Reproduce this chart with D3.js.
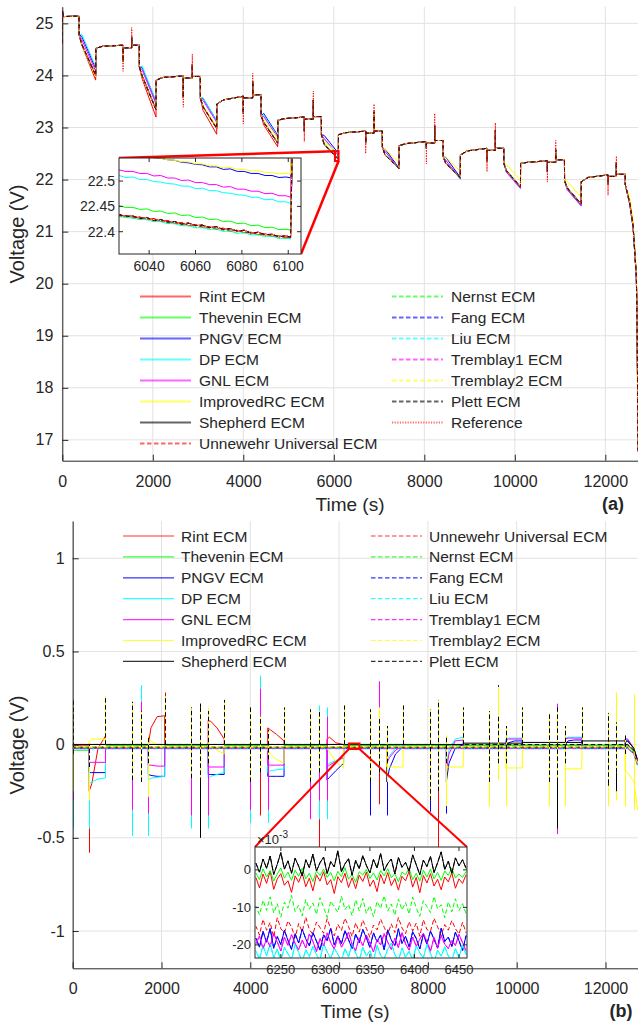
<!DOCTYPE html>
<html>
<head>
<meta charset="utf-8">
<title>ECM voltage comparison</title>
<script src="https://d3js.org/d3.v7.min.js"></script>
<style>
  html, body { margin: 0; padding: 0; background: #fff; }
  svg { display: block; }
  text { font-family: "Liberation Sans", Arial, Helvetica, sans-serif; fill: #262626; }
</style>
</head>
<body>
<svg id="fig" width="638" height="1026"></svg>
<script>
// ================= models =================
const modelNames = ["Rint ECM", "Thevenin ECM", "PNGV ECM", "DP ECM", "GNL ECM", "ImprovedRC ECM", "Shepherd ECM",
  "Unnewehr Universal ECM", "Nernst ECM", "Fang ECM", "Liu ECM", "Tremblay1 ECM", "Tremblay2 ECM", "Plett ECM"];
const modelColors = ["#ff0000", "#00ff00", "#0000ff", "#00ffff", "#ff00ff", "#ffff00", "#000000",
  "#ff0000", "#00ff00", "#0000ff", "#00ffff", "#ff00ff", "#ffff00", "#000000"];
const modelDashed = [false, false, false, false, false, false, false, true, true, true, true, true, true, true];
const modelDashOffset = [0, 0, 0, 0, 0, 0, 0, 0.8, 1.6, 2.4, 4.0, 5.2, 3.5, 0];
const refName = "Reference";

// ================= test profile timing (s) =================
const dStart = [370, 1702, 3050, 4391, 5725, 7072, 8414, 9755, 11097, 12440];   // discharge starts
const dEnd   = [738, 2071, 3412, 4760, 6101, 7441, 8796, 10125, 11467];         // discharge ends
const pDown  = [1343, 2674, 4000, 5348, 6705, 8045, 9385, 10720, 12060];        // short discharge pulse
const pUp    = [1534, 2873, 4208, 5547, 6889, 8230, 9570, 10904, 12244];        // short charge pulse
const tLast  = 12722;

// ================= (a) reference terminal voltage (V) =================
const startKnots = [[0, 24.62], [4, 25.25], [20, 25.13]];
const vRest  = [25.14, 24.58, 23.98, 23.63, 23.21, 22.93, 22.75, 22.60, 22.38, 22.10];
const vDrop  = [24.78, 24.16, 23.56, 23.22, 22.86, 22.62, 22.44, 22.31, 21.98, 21.90];
const vKnee  = [24.60, 24.00, 23.40, 23.10, 22.68, 22.47, 22.31, 22.17, 21.84];
const vEnd   = [24.00, 23.34, 22.98, 22.70, 22.389, 22.21, 22.04, 21.86, 21.53];
const vJump  = [24.52, 23.91, 23.45, 23.14, 22.86, 22.65, 22.47, 22.31, 21.96];
const vRelax = [24.56, 23.96, 23.53, 23.17, 22.90, 22.69, 22.55, 22.33, 22.04];
const vPre   = [24.58, 23.99, 23.60, 23.20, 22.93, 22.73, 22.60, 22.36, 22.09];
const vPdMin = [24.08, 23.39, 23.07, 22.73, 22.50, 22.30, 22.15, 21.95, 21.70];
const vPulse = [24.53, 23.95, 23.57, 23.16, 22.89, 22.70, 22.56, 22.33, 22.06];
const vPuMax = [24.92, 24.41, 24.04, 23.70, 23.45, 23.27, 23.09, 22.75, 22.45];
const finalDrop = [[12540, 21.55], [12614, 21.10], [12686, 20.14], [12705, 19.00], [12722, 16.80]];

// how far the model pulse spikes fall short of the measured spikes (V)
const pdGapA = [0.19, 0.18, 0.2, 0.2, 0.2, 0.3, 0.2, 0.2, 0.21];
const puGapA = [0.18, 0.2, 0.15, 0.18, 0.15, 0.24, 0.15, 0.18, 0.12];

// model offsets from the reference at the knee (+60 s) and the end of each discharge (V)
const devKneeA = {
  "Rint ECM":       [-0.02, -0.06, -0.07, -0.05, 0, 0, 0, 0, 0, 0],
  "Thevenin ECM":   [0.01, 0.01, 0.01, 0.01, 0.014, 0.01, 0.01, 0.01, 0.01, 0.01],
  "PNGV ECM":       [0.15, 0.16, 0.16, 0.17, 0.17, 0.12, 0.12, -0.01, -0.02, -0.02],
  "DP ECM":         [0.19, 0.18, 0.17, 0.14, 0.10, 0.07, 0.06, -0.03, -0.035, -0.03],
  "GNL ECM":        [0.09, 0.11, 0.12, 0.11, 0.11, 0.07, 0.06, -0.03, -0.035, -0.03],
  "ImprovedRC ECM": [-0.02, -0.02, 0.01, 0.05, 0.04, 0.12, 0.12, 0.12, 0.13, 0.10]
};
const devEndA = {
  "Rint ECM":       [-0.09, -0.14, -0.11, -0.07, -0.005, 0, 0, 0, 0, 0],
  "Thevenin ECM":   [0.015, 0.015, 0.015, 0.015, 0.014, 0.01, 0.01, 0.01, 0.01, 0.01],
  "PNGV ECM":       [0.13, 0.15, 0.15, 0.15, 0.117, 0.01, 0, -0.02, -0.025, -0.02],
  "DP ECM":         [0.17, 0.17, 0.15, 0.13, 0.067, 0, -0.04, -0.035, -0.04, -0.03],
  "GNL ECM":        [0.08, 0.11, 0.12, 0.11, 0.079, 0, -0.025, -0.03, -0.035, -0.03],
  "ImprovedRC ECM": [-0.028, 0, 0.05, 0.10, 0.125, 0.12, 0.12, 0.125, 0.13, 0.15]
};
const noDev = [0, 0, 0, 0, 0, 0, 0, 0, 0, 0];

// ================= (a) zoomed window 6027–6105.5 s =================
const zoomA = { t: [6027, 6105.5], v: [22.356, 22.5455] };
const insetAT = [6027, 6030, 6033, 6036, 6039, 6042, 6045, 6048, 6051, 6054, 6057, 6060, 6063,
  6066, 6069, 6072, 6075, 6078, 6081, 6084, 6087, 6090, 6093, 6096, 6099, 6101];
const insetPNGV = [22.558, 22.555, 22.554, 22.551, 22.550, 22.546, 22.545, 22.542, 22.541, 22.537, 22.536, 22.533, 22.532,
  22.528, 22.528, 22.523, 22.524, 22.519, 22.519, 22.515, 22.515, 22.511, 22.511, 22.507, 22.508, 22.5065];
const insetImprovedRC = [22.556, 22.554, 22.553, 22.550, 22.549, 22.546, 22.545, 22.542, 22.541, 22.538, 22.538, 22.534, 22.534,
  22.530, 22.530, 22.526, 22.527, 22.523, 22.523, 22.520, 22.520, 22.517, 22.517, 22.514, 22.515, 22.514];
const insetGNL = [22.522, 22.519, 22.519, 22.515, 22.515, 22.510, 22.511, 22.506, 22.506, 22.501, 22.502, 22.497, 22.497,
  22.493, 22.493, 22.488, 22.489, 22.484, 22.484, 22.480, 22.480, 22.475, 22.476, 22.471, 22.471, 22.468];
const insetDP = [22.511, 22.507, 22.508, 22.503, 22.503, 22.499, 22.498, 22.495, 22.494, 22.490, 22.490, 22.485, 22.486,
  22.481, 22.481, 22.477, 22.476, 22.473, 22.472, 22.468, 22.468, 22.463, 22.464, 22.459, 22.459, 22.456];
const insetThevenin = [22.451, 22.448, 22.448, 22.444, 22.445, 22.440, 22.441, 22.436, 22.437, 22.432, 22.433, 22.428, 22.429,
  22.424, 22.425, 22.420, 22.421, 22.416, 22.417, 22.412, 22.413, 22.408, 22.409, 22.404, 22.405, 22.403];
const insetClusterA = [22.434, 22.430, 22.431, 22.426, 22.428, 22.422, 22.424, 22.419, 22.420, 22.415, 22.417, 22.412, 22.413,
  22.408, 22.410, 22.404, 22.406, 22.401, 22.403, 22.397, 22.399, 22.394, 22.395, 22.390, 22.392, 22.389];
const insetClusterB = [22.431, 22.432, 22.428, 22.429, 22.424, 22.426, 22.420, 22.422, 22.416, 22.418, 22.412, 22.414, 22.409,
  22.410, 22.405, 22.407, 22.401, 22.403, 22.398, 22.399, 22.394, 22.396, 22.391, 22.392, 22.388, 22.388];
const insetClusterC = [22.430, 22.428, 22.427, 22.424, 22.424, 22.420, 22.420, 22.416, 22.416, 22.412, 22.412, 22.408, 22.408,
  22.405, 22.405, 22.401, 22.401, 22.397, 22.398, 22.394, 22.394, 22.391, 22.391, 22.387, 22.387, 22.386];
const insetAByModel = {
  "Rint ECM": insetClusterB, "Thevenin ECM": insetThevenin, "PNGV ECM": insetPNGV, "DP ECM": insetDP,
  "GNL ECM": insetGNL, "ImprovedRC ECM": insetImprovedRC, "Shepherd ECM": insetClusterA,
  "Unnewehr Universal ECM": insetClusterB, "Nernst ECM": insetClusterC, "Fang ECM": insetClusterA,
  "Liu ECM": insetClusterC, "Tremblay1 ECM": insetClusterA, "Tremblay2 ECM": insetClusterA,
  "Plett ECM": insetClusterA, "Reference": insetClusterA
};

// ================= (b) voltage error (V) =================
// error level during each rest interval (before discharge 1..10)
const restErrB = {
  "Rint ECM": [-0.003, -0.003, -0.003, -0.003, -0.003, -0.003, -0.003, -0.003, -0.003, -0.003],
  "Thevenin ECM": [-0.03, -0.004, -0.004, -0.004, -0.004, -0.004, -0.004, -0.004, -0.004, -0.004],
  "PNGV ECM": [-0.0185, -0.0185, -0.0185, -0.0185, -0.0185, -0.0185, -0.0185, -0.0185, -0.0185, -0.0185],
  "DP ECM": [-0.022, -0.022, -0.022, -0.022, -0.022, -0.022, -0.022, -0.022, -0.022, -0.022],
  "GNL ECM": [-0.0195, -0.0195, -0.0195, -0.0195, -0.0195, -0.0195, -0.0195, -0.0195, -0.0195, -0.0195],
  "ImprovedRC ECM": [-0.012, -0.012, -0.012, -0.012, -0.012, -0.012, -0.012, -0.012, -0.012, -0.012],
  "Shepherd ECM": [0.001, 0.001, 0.001, 0.001, 0.001, 0.001, 0.001, 0.008, 0.012, 0.02],
  "Unnewehr Universal ECM": [-0.0155, -0.0155, -0.0155, -0.0155, -0.0155, -0.0155, -0.0155, -0.0155, -0.0155, -0.0155],
  "Nernst ECM": [-0.010, -0.010, -0.010, -0.010, -0.010, -0.010, -0.010, -0.010, -0.010, -0.010],
  "Fang ECM": [-0.0185, -0.0185, -0.0185, -0.0185, -0.0185, -0.0185, -0.0185, -0.0185, -0.0185, -0.0185],
  "Liu ECM": [-0.022, -0.022, -0.022, -0.022, -0.022, -0.022, -0.022, -0.022, -0.022, -0.022],
  "Tremblay1 ECM": [-0.0195, -0.0195, -0.0195, -0.0195, -0.0195, -0.0195, -0.0195, -0.0195, -0.0195, -0.0195],
  "Tremblay2 ECM": [-0.012, -0.012, -0.012, -0.012, -0.012, -0.012, -0.012, -0.012, -0.012, -0.012],
  "Plett ECM": [0.001, 0.001, 0.001, 0.001, 0.001, 0.001, 0.001, 0.001, 0.001, 0.001]
};
// error during each discharge at +2 s, +60 s, +200 s and the end (null: stays at rest level)
const segErrB = {
  "Rint ECM": [[-0.25, -0.21, -0.02, 0.046], [0.0, 0.09, 0.15, 0.155], [0.13, 0.125, 0.09, 0.03], [0.09, 0.08, 0.055, 0.02],
    [0.03, 0.04, 0.01, 0.0], null, null, null, null, [-0.003, -0.003, -0.03, -0.09]],
  "Thevenin ECM": [[-0.02, -0.02, -0.02, -0.02], [-0.02, -0.02, -0.02, -0.02], [-0.02, -0.02, -0.02, -0.02], [-0.02, -0.02, -0.02, -0.02],
    [-0.016, -0.016, -0.016, -0.016], null, null, null, null, [-0.004, -0.004, -0.035, -0.095]],
  "PNGV ECM": [[-0.15, -0.15, -0.15, -0.15], [-0.16, -0.165, -0.17, -0.17], [-0.16, -0.16, -0.16, -0.16], [-0.17, -0.17, -0.17, -0.17],
    [-0.19, -0.175, -0.14, -0.10], [-0.2, -0.13, -0.05, -0.01], [-0.2, -0.1, -0.02, 0.0], [-0.01, 0.01, 0.02, 0.02],
    [0.0, 0.02, 0.025, 0.025], [0.01, 0.02, -0.02, -0.1]],
  "DP ECM": [[-0.21, -0.2, -0.185, -0.178], [-0.19, -0.18, -0.175, -0.17], [-0.18, -0.17, -0.16, -0.15], [-0.15, -0.14, -0.135, -0.13],
    [-0.11, -0.1, -0.085, -0.07], [-0.08, -0.06, -0.02, 0.0], [-0.12, -0.03, 0.03, 0.04], [0.03, 0.035, 0.035, 0.035],
    [0.035, 0.04, 0.04, 0.04], [0.03, 0.03, -0.02, -0.1]],
  "GNL ECM": [[-0.095, -0.095, -0.095, -0.095], [-0.11, -0.11, -0.115, -0.115], [-0.12, -0.12, -0.12, -0.12], [-0.11, -0.11, -0.11, -0.11],
    [-0.12, -0.11, -0.09, -0.07], [-0.1, -0.07, -0.03, -0.005], [-0.14, -0.05, 0.02, 0.025], [0.02, 0.03, 0.03, 0.03],
    [0.03, 0.035, 0.035, 0.035], [0.03, 0.03, -0.02, -0.1]],
  "ImprovedRC ECM": [[0.02, 0.03, 0.03, 0.028], [0.03, 0.02, 0.0, -0.01], [0.0, -0.01, -0.03, -0.05], [-0.03, -0.05, -0.08, -0.1],
    [-0.02, -0.04, -0.09, -0.125], [-0.12, -0.12, -0.12, -0.12], [-0.12, -0.12, -0.12, -0.12], [-0.125, -0.125, -0.125, -0.125],
    [-0.13, -0.13, -0.13, -0.13], [-0.14, -0.15, -0.2, -0.35]],
  "Shepherd ECM": [null, null, null, null, null, null, null, null, null, [0.02, 0.02, -0.02, -0.08]],
  "Unnewehr Universal ECM": [null, null, null, null, null, null, null, null, null, [-0.0155, -0.0155, -0.045, -0.105]],
  "Nernst ECM": [null, null, null, null, null, null, null, null, null, [-0.010, -0.010, -0.04, -0.1]],
  "Fang ECM": [null, null, null, null, null, null, null, null, null, [-0.0185, -0.0185, -0.05, -0.11]],
  "Liu ECM": [null, null, null, null, null, null, null, null, null, [-0.022, -0.022, -0.05, -0.11]],
  "Tremblay1 ECM": [null, null, null, null, null, null, null, null, null, [-0.0195, -0.0195, -0.05, -0.11]],
  "Tremblay2 ECM": [null, null, null, null, null, null, null, null, null, [-0.012, -0.012, -0.045, -0.1]],
  "Plett ECM": [null, null, null, null, null, null, null, null, null, [0.001, 0.001, -0.03, -0.085]]
};
// one-sample error spikes at current steps: [t, low, high]
const spikesDashedPair = [[0, -0.05, 0.25], [370, -0.12, 0], [738, 0, 0.26], [1343, -0.19, 0.23], [1534, -0.2, 0.18], [1702, -0.1, 0.05],
  [2071, 0, 0.26], [2674, -0.18, 0.2], [2873, -0.2, 0.2], [3050, -0.1, 0.18], [3412, 0, 0.24], [4000, -0.2, 0.2], [4208, -0.15, 0.15],
  [4391, -0.08, 0.08], [4760, 0, 0.2], [5348, -0.2, 0.19], [5547, -0.15, 0.18], [6101, 0, 0.21], [6705, -0.2, 0.19], [6889, -0.15, 0.15],
  [7072, -0.1, 0.1], [7441, 0, 0.21], [8045, -0.3, 0.19], [8230, -0.25, 0.24], [8414, -0.1, 0.05], [8796, 0, 0.2], [9385, -0.2, 0.18],
  [9570, -0.1, 0.15], [9755, -0.1, 0.1], [10125, 0, 0.2], [10720, -0.2, 0.17], [10904, -0.2, 0.18], [11097, -0.1, 0.1], [11467, 0, 0.2],
  [12060, -0.21, 0.17], [12244, -0.15, 0.12], [12440, -0.05, 0.05]];
const spikesB = {
  "Rint ECM": [[370, -0.58, 0], [2071, 0, 0.28], [4208, -0.38, 0.28], [5547, -0.56, 0], [6889, -0.32, 0], [8230, -0.6, 0]],
  "PNGV ECM": [[5725, -0.38, 0], [6705, -0.38, 0], [6889, 0, 0.30], [7072, -0.38, 0], [8045, -0.36, 0], [8414, -0.37, 0], [9570, 0, 0.32]],
  "DP ECM": [[0, -0.45, 0.05], [370, -0.45, 0], [1343, -0.49, 0], [1534, -0.1, 0.32], [1702, -0.49, 0], [2674, -0.45, 0],
    [2873, 0, 0.22], [3050, -0.45, 0], [4000, -0.42, 0], [4208, 0, 0.37], [4391, -0.42, 0.05], [5348, -0.38, 0],
    [5547, -0.4, 0.21], [5725, -0.4, 0.2]],
  "GNL ECM": [[0, -0.3, 0.12], [370, -0.25, 0], [738, 0, 0.1], [1343, -0.35, 0.1], [1534, -0.05, 0.23], [1702, -0.37, 0],
    [2674, -0.38, 0], [2873, -0.3, 0.15], [3050, -0.38, 0], [4000, -0.35, 0], [4208, 0, 0.3], [4391, -0.35, 0.08], [5348, -0.4, 0],
    [5547, -0.3, 0.15], [5725, -0.3, 0.15], [6889, 0, 0.34], [10904, -0.48, 0.22]],
  "ImprovedRC ECM": [[0, -0.25, 0.2], [370, -0.3, 0], [1702, -0.28, 0], [3050, 0, 0.2], [6889, 0, 0.2], [7072, -0.2, 0],
    [8414, -0.33, 0], [9385, -0.33, 0], [9570, -0.19, 0.31], [9755, -0.33, 0], [10720, -0.33, 0], [11097, -0.33, 0],
    [12060, -0.33, 0], [12244, -0.3, 0.28], [12440, -0.33, 0.05], [12650, -0.35, 0.27]],
  "Shepherd ECM": [[1343, -0.19, 0.2], [1534, -0.2, 0.15], [2873, -0.5, 0.22], [6705, -0.2, 0.1], [8230, -0.25, 0.2],
    [10904, -0.45, 0.2], [12060, -0.22, 0.12], [12244, -0.25, 0.1]],
  "Tremblay2 ECM": spikesDashedPair,
  "Plett ECM": spikesDashedPair
};

// ================= (b) zoomed window 6221–6459 s (values in 1e-3 V, 4 s sampling) =================
const zoomB = { t: [6221, 6459], v: [-0.0235, 0.0061] };
const insetBStart = 6222, insetBStep = 4;
const insetBShepherd = [1.8, -0.6, 2.9, 0.4, 3.7, -1.2, 1.5, 4.6, 0.2, 2.4, -0.9, 3.1, 1.0, -1.6, 2.7, 0.6, 4.2, -0.3, 1.9, 3.4,
  -1.0, 2.2, 0.8, 5.1, -0.5, 1.6, 3.0, -1.4, 2.5, 0.3, 3.8, 1.2, -0.8, 2.8, 0.5, 4.4, -0.2, 1.7, 2.9, -1.1,
  3.3, 0.7, 2.0, -0.4, 4.0, 1.4, -1.3, 2.6, 0.9, 3.6, -0.7, 1.9, 4.8, 0.1, 2.3, -0.9, 3.2, 1.1, 2.7, 0.4];
const insetBRint = [-2.0, -4.8, -1.1, -3.6, -0.3, -5.2, -2.4, -1.0, -4.1, -2.9, -6.0, -1.6, -3.3, -0.8, -4.5, -2.2, -5.6, -1.3, -3.0, -0.5,
  -4.0, -2.6, -6.3, -1.8, -3.4, -0.9, -4.7, -2.1, -5.0, -1.4, -3.1, -0.6, -4.4, -2.7, -5.8, -1.2, -3.7, -0.7, -4.2, -2.3,
  -5.4, -1.7, -2.9, -0.4, -4.6, -2.0, -6.1, -1.5, -3.5, -1.0, -4.3, -2.5, -5.3, -1.9, -3.2, -0.8, -4.9, -2.4, -3.6, -1.3];
const insetBThevenin = [-0.8, -2.6, 0.3, -1.9, -0.2, -3.0, -1.1, 0.5, -2.2, -0.6, -2.8, -0.1, -1.7, 0.4, -2.4, -0.9, -3.1, -0.3, -1.5, 0.2,
  -2.0, -0.7, -2.9, -0.4, -1.8, 0.6, -2.5, -1.2, -3.3, -0.5, -1.4, 0.1, -2.3, -0.8, -2.7, -0.2, -1.6, 0.3, -2.1, -1.0,
  -3.2, -0.6, -1.3, 0.4, -2.6, -0.9, -3.0, -0.1, -1.9, 0.2, -2.4, -0.7, -2.8, -0.3, -1.5, 0.5, -2.2, -1.1, -2.0, -0.4];
const insetBNernst = [-9.6, -12.0, -8.1, -10.8, -7.2, -11.5, -9.0, -12.6, -8.6, -10.2, -6.8, -11.1, -9.4, -12.3, -7.9, -10.5, -8.8, -11.9, -7.4, -10.0,
  -12.7, -8.3, -9.9, -11.3, -7.0, -10.6, -9.2, -12.2, -8.0, -10.9, -7.6, -11.6, -9.5, -12.5, -8.4, -10.3, -6.9, -11.0, -9.1, -12.1,
  -7.8, -10.7, -8.7, -11.8, -7.3, -10.1, -12.4, -8.2, -9.8, -11.4, -7.1, -10.4, -9.3, -12.8, -8.5, -11.2, -7.7, -10.9, -9.0, -11.7];
const insetBUnnewehr = [-15.0, -17.4, -13.2, -16.1, -14.0, -17.9, -12.8, -15.7, -16.8, -13.6, -15.2, -18.1, -14.3, -16.5, -12.6, -15.9, -17.2, -13.9, -15.4, -16.9,
  -13.0, -15.8, -17.6, -14.5, -16.2, -12.9, -15.1, -17.8, -14.1, -16.6, -13.4, -15.6, -18.0, -14.7, -16.0, -13.1, -15.3, -17.3, -14.4, -16.7,
  -12.7, -15.5, -17.0, -13.8, -16.3, -14.2, -17.7, -13.3, -15.9, -16.4, -12.9, -15.2, -17.5, -14.6, -16.1, -13.5, -15.7, -17.1, -14.0, -16.8];
const insetBPNGV = [-18.2, -20.6, -16.4, -19.3, -15.6, -20.9, -17.8, -19.9, -16.1, -18.8, -21.2, -17.0, -19.5, -15.8, -18.4, -20.3, -16.7, -19.0, -21.4, -17.3,
  -18.9, -15.5, -20.0, -17.6, -19.7, -16.2, -18.6, -21.0, -17.1, -19.4, -15.9, -18.1, -20.7, -16.8, -19.2, -17.4, -21.3, -16.0, -18.7, -20.2,
  -15.7, -19.6, -17.7, -20.5, -16.5, -18.3, -21.1, -17.2, -19.8, -16.3, -18.5, -20.8, -15.6, -19.1, -17.9, -20.4, -16.6, -18.9, -21.5, -17.5];
const insetBGNL = [-19.8, -17.6, -21.0, -18.4, -20.5, -16.9, -19.2, -21.6, -18.0, -20.1, -17.3, -19.6, -21.3, -18.7, -20.8, -17.1, -19.0, -21.8, -18.3, -20.3,
  -16.8, -19.4, -21.1, -17.8, -20.6, -18.9, -16.6, -19.9, -21.5, -18.1, -20.2, -17.4, -19.5, -21.9, -18.6, -20.0, -17.0, -19.3, -21.2, -18.2,
  -20.7, -16.7, -19.7, -21.4, -17.9, -20.4, -18.5, -16.9, -19.1, -21.7, -18.0, -20.9, -17.5, -19.8, -21.0, -18.8, -20.2, -17.2, -19.4, -21.6];
const insetBDP = [-21.6, -23.8, -20.2, -22.9, -19.6, -23.4, -21.1, -24.2, -20.7, -22.4, -23.9, -19.9, -22.0, -24.5, -21.3, -23.1, -20.4, -22.7, -24.0, -19.7,
  -21.8, -23.6, -20.9, -22.5, -24.3, -21.0, -23.2, -19.8, -22.2, -24.1, -20.6, -23.0, -21.5, -24.4, -20.1, -22.8, -23.7, -21.2, -19.5, -22.6,
  -24.2, -20.8, -23.3, -21.7, -24.0, -20.3, -22.1, -23.5, -19.9, -22.3, -24.6, -21.4, -23.0, -20.5, -22.9, -24.1, -21.0, -23.4, -20.0, -22.6];
const insetBByModel = {
  "Rint ECM": insetBRint, "Thevenin ECM": insetBThevenin, "PNGV ECM": insetBPNGV, "DP ECM": insetBDP, "GNL ECM": insetBGNL,
  "Shepherd ECM": insetBShepherd, "Unnewehr Universal ECM": insetBUnnewehr, "Nernst ECM": insetBNernst, "Fang ECM": insetBPNGV,
  "Liu ECM": insetBDP, "Tremblay1 ECM": insetBGNL, "Plett ECM": insetBShepherd
};

// ================= ticks =================
const ticksTime = [0, 2000, 4000, 6000, 8000, 10000, 12000];
const ticksVoltA = [17, 18, 19, 20, 21, 22, 23, 24, 25];
const ticksErrB = [-1, -0.5, 0, 0.5, 1];
const ticksInsetAX = [6040, 6060, 6080, 6100];
const ticksInsetAY = [22.4, 22.45, 22.5];
const ticksInsetBX = [6250, 6300, 6350, 6400, 6450];
const ticksInsetBY = [-20, -10, 0];

// ================= drawing =================
const AXC = "#262626", GRIDC = "#e2e2e2";
const DASH = "4.5,2.5", DOT = "1.2,1.4";
const svg = d3.select("#fig");

const xA = d3.scaleLinear().domain([0, tLast]).range([62.3, 638]);
const yA = d3.scaleLinear().domain([16.6, 25.32]).range([460.7, 6.7]);
const xB = d3.scaleLinear().domain([0, tLast]).range([72.7, 72.7 + tLast * 0.0444]);
const yB = d3.scaleLinear().domain([-1.2, 1.2]).range([968.3, 521]);
const xIA = d3.scaleLinear().domain(zoomA.t).range([119, 301]);
const yIA = d3.scaleLinear().domain(zoomA.v).range([254, 158]);
const xIB = d3.scaleLinear().domain(zoomB.t).range([255, 467]);
const yIB = d3.scaleLinear().domain([zoomB.v[0] * 1000, zoomB.v[1] * 1000]).range([958, 847]);

const defs = svg.append("defs");
function clip(id, x0, y0, x1, y1) {
  defs.append("clipPath").attr("id", id).append("rect")
    .attr("x", x0).attr("y", y0).attr("width", x1 - x0).attr("height", y1 - y0);
  return "url(#" + id + ")";
}

function styleLine(sel, idx, opts = {}) {
  const isRef = idx < 0;
  sel.attr("fill", "none")
    .attr("stroke", isRef ? "#ff0000" : modelColors[idx])
    .attr("stroke-width", opts.width || 1)
    .attr("stroke-dasharray", isRef ? DOT : (modelDashed[idx] ? DASH : null))
    .attr("stroke-dashoffset", isRef ? 0 : modelDashOffset[idx])
    .attr("stroke-linejoin", "round");
  return sel;
}

function grid(g, x, y, xt, yt) {
  const [x0, x1] = x.range(), [yb, yt0] = y.range();
  g.append("g").selectAll("line").data(xt).join("line")
    .attr("x1", d => x(d)).attr("x2", d => x(d)).attr("y1", yt0).attr("y2", yb)
    .attr("stroke", GRIDC).attr("stroke-width", 1);
  g.append("g").selectAll("line").data(yt).join("line")
    .attr("x1", x0).attr("x2", x1).attr("y1", d => y(d)).attr("y2", d => y(d))
    .attr("stroke", GRIDC).attr("stroke-width", 1);
}

function drawAxisFrame(g, x, y, xt, yt, fmtY, padY, padX, fontSize) {
  const [x0] = x.range(), [yb] = y.range();
  const ax = g.append("g").attr("transform", `translate(0,${yb})`)
    .call(d3.axisBottom(x).tickValues(xt).tickSizeInner(-6).tickSizeOuter(0).tickPadding(padX).tickFormat(d => String(d)));
  const ay = g.append("g").attr("transform", `translate(${x0},0)`)
    .call(d3.axisLeft(y).tickValues(yt).tickSizeInner(-6).tickSizeOuter(0).tickPadding(padY).tickFormat(fmtY));
  [ax, ay].forEach(a => {
    a.select(".domain").attr("stroke", AXC).attr("stroke-width", 1);
    a.selectAll(".tick line").attr("stroke", AXC);
    a.selectAll("text").attr("font-size", fontSize).attr("fill", AXC);
    a.attr("font-family", null).attr("font-size", null);
  });
}

function insetFrame(g, x, y, xt, yt, fmtY, fontSize, tickLen) {
  const [x0, x1] = x.range(), [y1, y0] = y.range();
  g.append("rect").attr("x", x0).attr("y", y0).attr("width", x1 - x0).attr("height", y1 - y0)
    .attr("fill", "#fff").attr("stroke", "none");
  return function finish() {
    const f = g.append("g");
    f.append("rect").attr("x", x0).attr("y", y0).attr("width", x1 - x0).attr("height", y1 - y0)
      .attr("fill", "none").attr("stroke", AXC).attr("stroke-width", 1);
    xt.forEach(d => {
      f.append("line").attr("x1", x(d)).attr("x2", x(d)).attr("y1", y1).attr("y2", y1 - tickLen).attr("stroke", AXC);
      f.append("line").attr("x1", x(d)).attr("x2", x(d)).attr("y1", y0).attr("y2", y0 + tickLen).attr("stroke", AXC);
      f.append("text").attr("x", x(d)).attr("y", y1 + 4).attr("dy", "0.95em").attr("text-anchor", "middle")
        .attr("font-size", fontSize).text(String(d));
    });
    yt.forEach(d => {
      f.append("line").attr("x1", x0).attr("x2", x0 + tickLen).attr("y1", y(d)).attr("y2", y(d)).attr("stroke", AXC);
      f.append("line").attr("x1", x1).attr("x2", x1 - tickLen).attr("y1", y(d)).attr("y2", y(d)).attr("stroke", AXC);
      f.append("text").attr("x", x0 - 4).attr("y", y(d)).attr("dy", "0.35em").attr("text-anchor", "end")
        .attr("font-size", fontSize).text(fmtY(d));
    });
    return f;
  };
}

// ---------- (a) series construction from the profile knots ----------
function buildA(name) {
  const isRef = name === refName;
  const dk = devKneeA[name] || noDev, de = devEndA[name] || noDev;
  const pts = startKnots.map(p => p.slice());
  for (let k = 0; k < dStart.length; k++) {
    pts.push([dStart[k], vRest[k]], [dStart[k] + 2, vDrop[k]]);
    if (k < dEnd.length) {
      pts.push([dStart[k] + 60, vKnee[k] + dk[k]], [dEnd[k], vEnd[k] + de[k]],
        [dEnd[k] + 2, vJump[k]], [dEnd[k] + 150, vRelax[k]],
        [pDown[k] - 1, vPre[k]], [pDown[k], vPdMin[k] + (isRef ? 0 : pdGapA[k])], [pDown[k] + 2, vPulse[k]],
        [pUp[k] - 1, vPulse[k]], [pUp[k], vPuMax[k] - (isRef ? 0 : puGapA[k])], [pUp[k] + 2, vRest[k + 1]]);
    } else {
      finalDrop.forEach((p, i) => pts.push([p[0], p[1] + (i === finalDrop.length - 1 ? de[k] : dk[k])]));
    }
  }
  return pts;
}

// ---------- (b) series construction ----------
function buildB(name) {
  const rest = restErrB[name], seg = segErrB[name];
  const pts = [[0, rest[0]]];
  for (let k = 0; k < dStart.length; k++) {
    const s = seg[k];
    const tEndK = k < dEnd.length ? dEnd[k] : tLast;
    if (s) {
      pts.push([dStart[k], rest[k]], [dStart[k] + 2, s[0]], [dStart[k] + 60, s[1]], [dStart[k] + 200, s[2]], [tEndK, s[3]]);
    } else {
      pts.push([dStart[k], rest[k]], [tEndK, rest[k]]);
    }
    if (k < dEnd.length) pts.push([dEnd[k] + 2, rest[k + 1]]);
  }
  return pts;
}

// ================= panel (a) =================
const gA = svg.append("g");
grid(gA, xA, yA, ticksTime, ticksVoltA);
const clipA = clip("clipA", 62.3, 6.7, 638, 460.7);
const lineA = d3.line().x(d => xA(d[0])).y(d => yA(d[1]));
const seriesA = gA.append("g").attr("clip-path", clipA);
modelNames.forEach((name, i) => styleLine(seriesA.append("path").attr("d", lineA(buildA(name))), i));
styleLine(seriesA.append("path").attr("d", lineA(buildA(refName))), -1);

drawAxisFrame(gA, xA, yA, ticksTime, ticksVoltA, d => String(d), 9, 15.4, 16);

// zoom marker and connectors
gA.append("rect").attr("x", xA(zoomA.t[0])).attr("y", yA(zoomA.v[1]))
  .attr("width", xA(zoomA.t[1]) - xA(zoomA.t[0])).attr("height", yA(zoomA.v[0]) - yA(zoomA.v[1]))
  .attr("fill", "none").attr("stroke", "#ff0000").attr("stroke-width", 2);
gA.append("line").attr("x1", xIA.range()[0]).attr("y1", yIA.range()[1]).attr("x2", xA(zoomA.t[0])).attr("y2", yA(zoomA.v[1]))
  .attr("stroke", "#ff0000").attr("stroke-width", 2.5);
gA.append("line").attr("x1", xIA.range()[1]).attr("y1", yIA.range()[0]).attr("x2", xA(zoomA.t[1])).attr("y2", yA(zoomA.v[0]))
  .attr("stroke", "#ff0000").attr("stroke-width", 2.5);

// inset (a)
const gIA = svg.append("g");
const finishIA = insetFrame(gIA, xIA, yIA, ticksInsetAX, ticksInsetAY, d => String(d), 14, 4);
const clipIA = clip("clipIA", 119, 158, 301, 254);
const lineIA = d3.line().x(d => xIA(d[0])).y(d => yIA(d[1]));
const insIA = gIA.append("g").attr("clip-path", clipIA);
modelNames.concat([refName]).forEach((name, j) => {
  const vals = insetAByModel[name];
  const pts = insetAT.map((t, i) => [t, vals[i]]);
  pts.push([dEnd[4] + 2, vJump[4]]);
  styleLine(insIA.append("path").attr("d", lineIA(pts)), j < modelNames.length ? j : -1);
});
finishIA();

// labels (a)
svg.append("text").attr("transform", "translate(24,234) rotate(-90)").attr("text-anchor", "middle")
  .attr("font-size", 20).text("Voltage (V)");
svg.append("text").attr("x", 350).attr("y", 511).attr("text-anchor", "middle").attr("font-size", 19).text("Time (s)");
svg.append("text").attr("x", 613).attr("y", 510).attr("text-anchor", "middle").attr("font-size", 18)
  .attr("font-weight", "bold").text("(a)");

// legend (a)
const legA = modelNames.concat([refName]);
legA.forEach((name, i) => {
  const col = i < 8 ? 0 : 1, row = i < 8 ? i : i - 8;
  const lx = col === 0 ? 140 : 392, tx = col === 0 ? 199 : 451;
  const ly = 296.5 + row * 21;
  styleLine(svg.append("line").attr("x1", lx).attr("x2", lx + 51).attr("y1", ly).attr("y2", ly),
    i < modelNames.length ? i : -1, { width: 1.8 }).attr("stroke-opacity", 0.6).attr("stroke-dashoffset", 0);
  svg.append("text").attr("x", tx).attr("y", ly).attr("dy", "0.36em").attr("font-size", 15.5).text(name);
});

// ================= panel (b) =================
const gB = svg.append("g");
grid(gB, xB, yB, ticksTime, ticksErrB);
const clipB = clip("clipB", 72.7, 521, 638, 968.3);
const lineB = d3.line().x(d => xB(d[0])).y(d => yB(d[1]));
const seriesB = gB.append("g").attr("clip-path", clipB);
modelNames.forEach((name, i) => {
  styleLine(seriesB.append("path").attr("d", lineB(buildB(name))), i);
  (spikesB[name] || []).forEach(s => {
    const px = Math.round(xB(s[0])) + 0.5;
    styleLine(seriesB.append("line").attr("x1", px).attr("x2", px).attr("y1", yB(s[1])).attr("y2", yB(s[2])), i)
      .attr("stroke-dashoffset", name === "Tremblay2 ECM" ? 3.5 : 0);
  });
});

drawAxisFrame(gB, xB, yB, ticksTime, ticksErrB, d => String(d), 8, 14.1, 16);

// zoom marker and connectors (b)
gB.append("rect").attr("x", xB(zoomB.t[0])).attr("y", yB(zoomB.v[1]))
  .attr("width", xB(zoomB.t[1]) - xB(zoomB.t[0])).attr("height", yB(zoomB.v[0]) - yB(zoomB.v[1]))
  .attr("fill", "none").attr("stroke", "#ff0000").attr("stroke-width", 2);
gB.append("line").attr("x1", xIB.range()[0]).attr("y1", yIB.range()[1]).attr("x2", xB(zoomB.t[0])).attr("y2", yB(zoomB.v[0]))
  .attr("stroke", "#ff0000").attr("stroke-width", 2);
gB.append("line").attr("x1", xIB.range()[1]).attr("y1", yIB.range()[1]).attr("x2", xB(zoomB.t[1])).attr("y2", yB(zoomB.v[0]))
  .attr("stroke", "#ff0000").attr("stroke-width", 2);

// inset (b)
const gIB = svg.append("g");
const finishIB = insetFrame(gIB, xIB, yIB, ticksInsetBX, ticksInsetBY, d => String(d), 13, 4);
const clipIB = clip("clipIB", 255, 847, 467, 958);
const lineIB = d3.line().x(d => xIB(d[0])).y(d => yIB(d[1]));
const insIB = gIB.append("g").attr("clip-path", clipIB);
modelNames.forEach((name, i) => {
  const vals = insetBByModel[name];
  if (!vals) return;
  const pts = vals.map((v, k) => [insetBStart + k * insetBStep, v]);
  styleLine(insIB.append("path").attr("d", lineIB(pts)), i);
});
finishIB();
const expo = svg.append("text").attr("x", 257).attr("y", 844).attr("font-size", 13);
expo.append("tspan").text("\u00d710");
expo.append("tspan").attr("font-size", 10).attr("dy", -6).text("-3");

// labels (b)
svg.append("text").attr("transform", "translate(24,745) rotate(-90)").attr("text-anchor", "middle")
  .attr("font-size", 20).text("Voltage (V)");
svg.append("text").attr("x", 355).attr("y", 1018).attr("text-anchor", "middle").attr("font-size", 19).text("Time (s)");
svg.append("text").attr("x", 621).attr("y", 1017).attr("text-anchor", "middle").attr("font-size", 18)
  .attr("font-weight", "bold").text("(b)");

// legend (b)
modelNames.forEach((name, i) => {
  const col = i < 7 ? 0 : 1, row = i < 7 ? i : i - 7;
  const lx = col === 0 ? 123 : 371, tx = col === 0 ? 181 : 429;
  const ly = 536 + row * 20.9;
  styleLine(svg.append("line").attr("x1", lx).attr("x2", lx + 51).attr("y1", ly).attr("y2", ly), i, { width: 1.2 })
    .attr("stroke-opacity", 0.8).attr("stroke-dashoffset", 0);
  svg.append("text").attr("x", tx).attr("y", ly).attr("dy", "0.36em").attr("font-size", 15.5).text(name);
});
</script>
</body>
</html>
